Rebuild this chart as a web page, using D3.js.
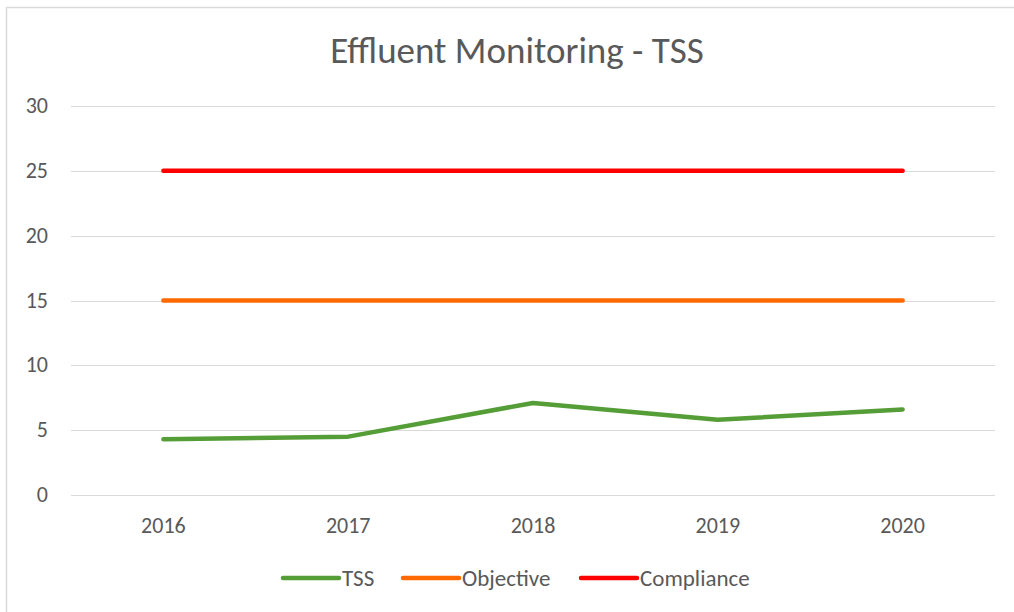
<!DOCTYPE html>
<meta charset="utf-8">
<head>
    <script src="https://d3js.org/d3.v7.min.js"></script>
</head>
<style>
    body { margin: 0; background: white; }
    text { font-family: Carlito, Lato, 'Open Sans', sans-serif; fill: #595959; }
</style>
<div id="my_dataviz"></div>
<script>

    // data
    var years = ["2016", "2017", "2018", "2019", "2020"];
    var tss = [4.3, 4.5, 7.1, 5.8, 6.6];
    var objective = [15, 15, 15, 15, 15];
    var compliance = [25, 25, 25, 25, 25];
    var yTicks = [0, 5, 10, 15, 20, 25, 30];

    var seriesNames = ["TSS", "Objective", "Compliance"];
    var seriesColors = ["#559E37", "#FF6A00", "#FF0000"];

    var W = 1014, H = 612;
    var margin = {top: 106, right: 19, bottom: 117, left: 71},
        width = W - margin.left - margin.right,
        height = H - margin.top - margin.bottom;

    var svgRoot = d3.select("#my_dataviz")
        .append("svg")
        .attr("width", W)
        .attr("height", H);

    // chart border (cut off at right and bottom)
    svgRoot.append("rect")
        .attr("x", 6.5).attr("y", 7.5)
        .attr("width", W + 10).attr("height", H + 10)
        .attr("fill", "white")
        .attr("stroke", "#D9D9D9")
        .attr("stroke-width", 1.5);

    // title
    svgRoot.append("text")
        .attr("x", 517)
        .attr("y", 63)
        .attr("text-anchor", "middle")
        .style("font-size", "37px")
        .text("Effluent Monitoring - TSS");

    var svg = svgRoot.append("g")
        .attr("transform", "translate(" + margin.left + "," + margin.top + ")");

    var x = d3.scaleBand()
        .domain(years)
        .range([0, width]);

    var y = d3.scaleLinear()
        .domain([0, 30])
        .range([height, 0]);

    // gridlines
    svg.append("g")
        .selectAll("line")
        .data(yTicks)
        .enter()
        .append("line")
        .attr("x1", 0).attr("x2", width)
        .attr("y1", function(d) { return Math.round(y(d)) + 0.5; })
        .attr("y2", function(d) { return Math.round(y(d)) + 0.5; })
        .attr("stroke", "#D9D9D9")
        .attr("stroke-width", 1);

    // Y labels
    svg.append("g")
        .selectAll("text")
        .data(yTicks)
        .enter()
        .append("text")
        .attr("x", -23)
        .attr("y", function(d) { return y(d) + 7; })
        .attr("text-anchor", "end")
        .style("font-size", "22px")
        .text(function(d) { return d; });

    // X labels
    svg.append("g")
        .selectAll("text")
        .data(years)
        .enter()
        .append("text")
        .attr("x", function(d) { return x(d) + x.bandwidth() / 2; })
        .attr("y", height + 38)
        .attr("text-anchor", "middle")
        .style("font-size", "22px")
        .text(function(d) { return d; });

    var line = d3.line()
        .x(function(d, i) { return x(years[i]) + x.bandwidth() / 2; })
        .y(function(d) { return y(d); });

    var allSeries = [tss, objective, compliance];
    allSeries.forEach(function(s, i) {
        svg.append("path")
            .datum(s)
            .attr("fill", "none")
            .attr("stroke", seriesColors[i])
            .attr("stroke-width", 4.5)
            .attr("stroke-linecap", "round")
            .attr("stroke-linejoin", "round")
            .attr("d", line);
    });

    // legend
    var legendX = [283, 403, 581];
    var legend = svgRoot.append("g");
    seriesNames.forEach(function(name, i) {
        legend.append("line")
            .attr("x1", legendX[i]).attr("x2", legendX[i] + 56)
            .attr("y1", 578).attr("y2", 578)
            .attr("stroke", seriesColors[i])
            .attr("stroke-width", 4.5)
            .attr("stroke-linecap", "round");
        legend.append("text")
            .attr("x", legendX[i] + 59)
            .attr("y", 586)
            .style("font-size", "23px")
            .text(name);
    });

</script>
